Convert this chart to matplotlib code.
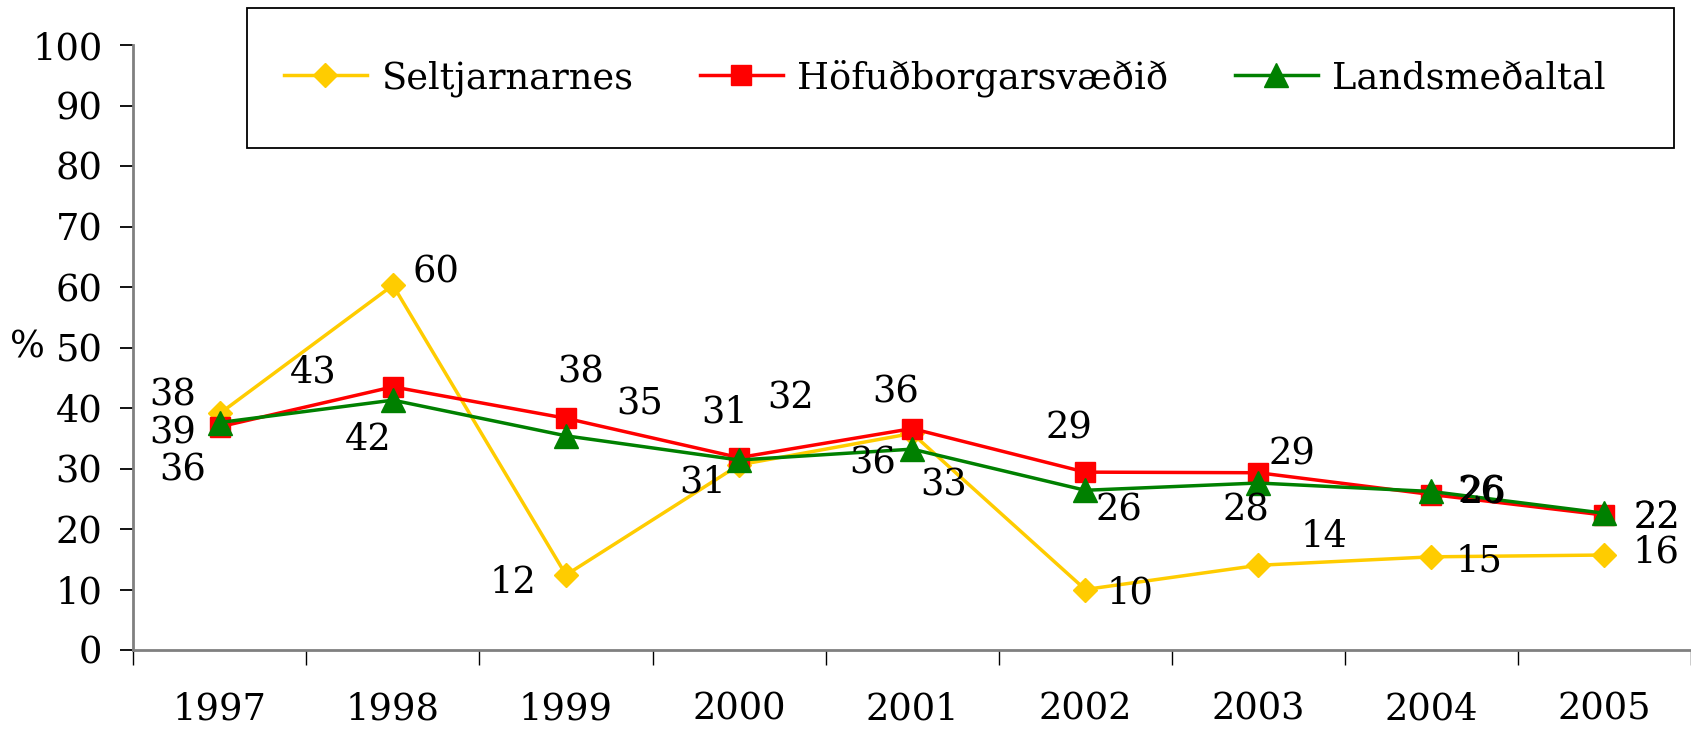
import matplotlib
matplotlib.use("Agg")
import matplotlib.pyplot as plt
from matplotlib.patches import Rectangle
from matplotlib.ticker import FixedLocator

# ---- data ----
years = ["1997", "1998", "1999", "2000", "2001", "2002", "2003", "2004", "2005"]
series_names = ["Seltjarnarnes", "Höfuðborgarsvæðið", "Landsmeðaltal"]
seltjarnarnes = [39.1, 60.3, 12.4, 30.6, 35.8, 10.0, 14.0, 15.4, 15.7]
hofudborg = [36.9, 43.5, 38.3, 31.8, 36.6, 29.4, 29.3, 25.7, 22.3]
landsmedaltal = [37.6, 41.3, 35.4, 31.4, 33.2, 26.4, 27.6, 26.2, 22.6]
labels_selt = ["39", "60", "12", "31", "36", "10", "14", "15", "16"]
labels_hofud = ["36", "43", "38", "31", "36", "29", "29", "26", "22"]
labels_lands = ["38", "42", "35", "32", "33", "26", "28", "26", "22"]
yticks = [0, 10, 20, 30, 40, 50, 60, 70, 80, 90, 100]

# ---- style / layout ----
W, H = 1691, 731
DPI = 100
PX = 72.0 / DPI  # pixels -> points
FONT = "DejaVu Serif"
FS = 26.5
LFS = 26.5

colors = ["#FFCC00", "#FF0000", "#008000"]
markers = ["D", "s", "^"]
msizes = [12, 14, 17]

# label offsets (pixels, dx right, dy down)
off_selt = [(-47, 20), (43, -13), (-53, 8), (-36, 18), (-39, 30), (45, 4), (66, -28), (48, 5), (52, -3)]
off_hofud = [(-37, 44), (-80, -14), (15, -46), (-14, -45), (-16, -36), (-16, -44), (34, -18), (52, -1), (52, 3)]
off_lands = [(-47, -27), (-25, 40), (74, -31), (52, -62), (31, 36), (34, 20), (-12, 27), (50, 1), (52, 5)]

plt.rcParams["font.family"] = [FONT, "DejaVu Sans"]

fig = plt.figure(figsize=(W / DPI, H / DPI), dpi=DPI)
left, right, top, bottom = 133.3, 1691, 45, 650
ax = fig.add_axes([left / W, 1 - bottom / H, (right - left) / W, (bottom - top) / H])

x = list(range(len(years)))
all_vals = [seltjarnarnes, hofudborg, landsmedaltal]
all_labels = [labels_selt, labels_hofud, labels_lands]
all_offs = [off_selt, off_hofud, off_lands]

handles = []
for k, vals in enumerate(all_vals):
    (ln,) = ax.plot(x, vals, color=colors[k], lw=2.5, marker=markers[k],
                    markersize=msizes[k], markerfacecolor=colors[k],
                    markeredgecolor=colors[k], label=series_names[k],
                    zorder=3 + k, clip_on=False)
    handles.append(ln)

for k, vals in enumerate(all_vals):
    for i, v in enumerate(vals):
        dx, dy = all_offs[k][i]
        ax.annotate(all_labels[k][i], (x[i], v), xytext=(dx * PX, -dy * PX),
                    textcoords="offset points", ha="center", va="center",
                    fontsize=FS, color="black", zorder=10)

ax.set_xlim(-0.5, len(years) - 0.5)
ax.set_ylim(0, 100)
ax.set_yticks(yticks)
ax.set_yticklabels([str(t) for t in yticks], fontsize=FS)
ax.set_xticks(x)
ax.set_xticklabels(years, fontsize=FS)
ax.xaxis.set_minor_locator(FixedLocator([i - 0.5 for i in range(len(years) + 1)]))

ax.tick_params(axis="y", which="major", direction="out", length=13 * PX, width=1.3,
               pad=18 * PX, colors="black")
ax.tick_params(axis="x", which="major", length=0, pad=42 * PX)
ax.tick_params(axis="x", which="minor", direction="out", length=15 * PX, width=1.0,
               color="black")

for s in ["top", "right"]:
    ax.spines[s].set_visible(False)
for s in ["left", "bottom"]:
    ax.spines[s].set_color("#808080")
    ax.spines[s].set_linewidth(2.0)

fig.text(27 / W, 1 - 347 / H, "%", fontsize=FS, ha="center", va="center")

# legend box
rect = Rectangle((247 / W, 1 - 148 / H), (1674 - 247) / W, (148 - 7.5) / H,
                 transform=fig.transFigure, fill=False, edgecolor="black",
                 linewidth=1.3, zorder=20)
fig.add_artist(rect)
fig.legend(handles=handles, labels=series_names, loc="center",
           bbox_to_anchor=(945 / W, 1 - 78 / H), ncol=3, frameon=False,
           fontsize=LFS, handlelength=2.25, handletextpad=0.4,
           columnspacing=1.8)

fig.savefig("out.png", dpi=DPI)
